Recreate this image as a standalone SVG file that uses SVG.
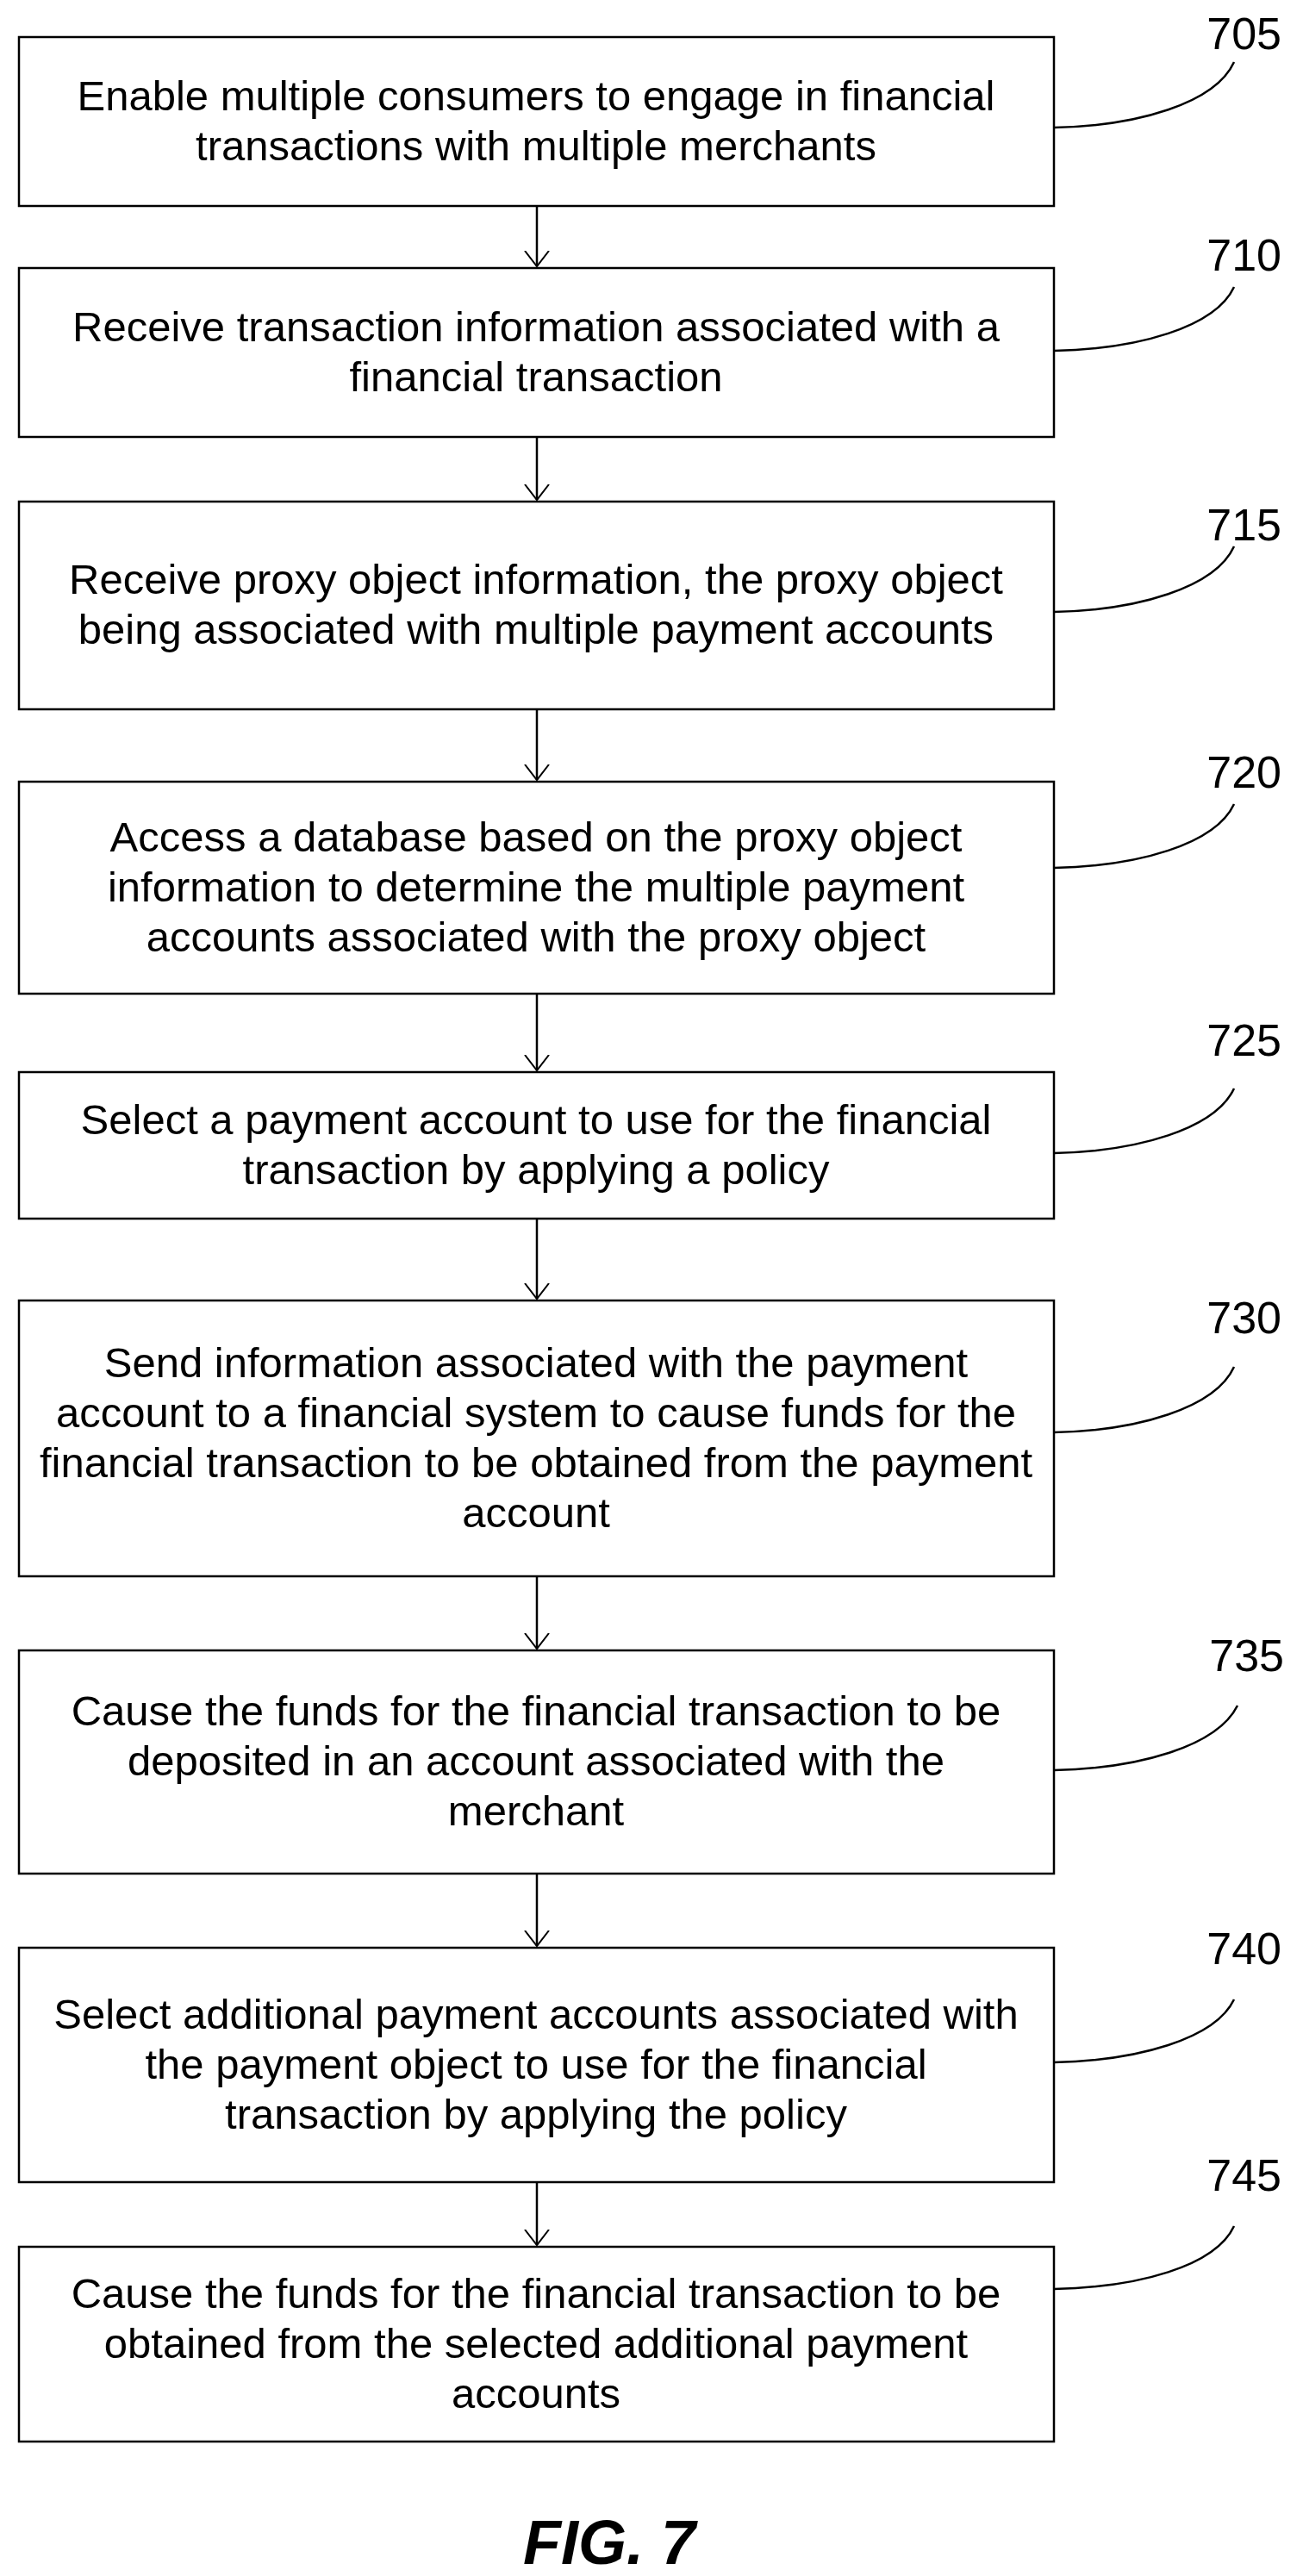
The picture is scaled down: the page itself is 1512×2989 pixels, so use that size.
<svg xmlns="http://www.w3.org/2000/svg" width="1512" height="2989" viewBox="0 0 1512 2989">
<style>
.box{fill:#fff;stroke:#000;stroke-width:2.5}
.t{font-family:"Liberation Sans",Arial,sans-serif;font-size:49px;text-anchor:middle;fill:#000}
.lbl{font-family:"Liberation Sans",Arial,sans-serif;font-size:52px;text-anchor:end;fill:#000}
.ld{fill:none;stroke:#000;stroke-width:2.5}
.ar{fill:none;stroke:#000;stroke-width:2.5}
</style>
<defs>
<marker id="v" markerWidth="24" markerHeight="30" refX="18" refY="15" orient="auto" markerUnits="userSpaceOnUse">
<path d="M0,1 L18,15 L0,29" fill="none" stroke="#000" stroke-width="2"/>
</marker>
</defs>
<rect width="1512" height="2989" fill="#fff"/>
<g id="connectors">
<line class="ar" x1="623" y1="239" x2="623" y2="309" marker-end="url(#v)"/>
<line class="ar" x1="623" y1="507" x2="623" y2="580" marker-end="url(#v)"/>
<line class="ar" x1="623" y1="823" x2="623" y2="905" marker-end="url(#v)"/>
<line class="ar" x1="623" y1="1153" x2="623" y2="1242" marker-end="url(#v)"/>
<line class="ar" x1="623" y1="1414" x2="623" y2="1507" marker-end="url(#v)"/>
<line class="ar" x1="623" y1="1829" x2="623" y2="1913" marker-end="url(#v)"/>
<line class="ar" x1="623" y1="2174" x2="623" y2="2258" marker-end="url(#v)"/>
<line class="ar" x1="623" y1="2532" x2="623" y2="2605" marker-end="url(#v)"/>
</g>
<g id="n705">
<rect class="box" x="22" y="43" width="1201" height="196"/>
<text class="t" x="622" y="128">Enable multiple consumers to engage in financial</text>
<text class="t" x="622" y="186">transactions with multiple merchants</text>
<text class="lbl" x="1487" y="57">705</text>
<path class="ld" d="M1223,148 C1320,146 1410,120 1432,72"/>
</g>
<g id="n710">
<rect class="box" x="22" y="311" width="1201" height="196"/>
<text class="t" x="622" y="396">Receive transaction information associated with a</text>
<text class="t" x="622" y="454">financial transaction</text>
<text class="lbl" x="1487" y="314">710</text>
<path class="ld" d="M1223,407 C1320,405 1410,380 1432,333"/>
</g>
<g id="n715">
<rect class="box" x="22" y="582" width="1201" height="241"/>
<text class="t" x="622" y="689">Receive proxy object information, the proxy object</text>
<text class="t" x="622" y="747">being associated with multiple payment accounts</text>
<text class="lbl" x="1487" y="627">715</text>
<path class="ld" d="M1223,710 C1320,708 1410,682 1432,634"/>
</g>
<g id="n720">
<rect class="box" x="22" y="907" width="1201" height="246"/>
<text class="t" x="622" y="988">Access a database based on the proxy object</text>
<text class="t" x="622" y="1046">information to determine the multiple payment</text>
<text class="t" x="622" y="1104">accounts associated with the proxy object</text>
<text class="lbl" x="1487" y="914">720</text>
<path class="ld" d="M1223,1007 C1320,1005 1410,980 1432,933"/>
</g>
<g id="n725">
<rect class="box" x="22" y="1244" width="1201" height="170"/>
<text class="t" x="622" y="1316">Select a payment account to use for the financial</text>
<text class="t" x="622" y="1374">transaction by applying a policy</text>
<text class="lbl" x="1487" y="1225">725</text>
<path class="ld" d="M1223,1338 C1320,1336 1410,1310 1432,1263"/>
</g>
<g id="n730">
<rect class="box" x="22" y="1509" width="1201" height="320"/>
<text class="t" x="622" y="1598">Send information associated with the payment</text>
<text class="t" x="622" y="1656">account to a financial system to cause funds for the</text>
<text class="t" x="622" y="1714">financial transaction to be obtained from the payment</text>
<text class="t" x="622" y="1772">account</text>
<text class="lbl" x="1487" y="1547">730</text>
<path class="ld" d="M1223,1662 C1320,1660 1410,1634 1432,1586"/>
</g>
<g id="n735">
<rect class="box" x="22" y="1915" width="1201" height="259"/>
<text class="t" x="622" y="2002">Cause the funds for the financial transaction to be</text>
<text class="t" x="622" y="2060">deposited in an account associated with the</text>
<text class="t" x="622" y="2118">merchant</text>
<text class="lbl" x="1490" y="1939">735</text>
<path class="ld" d="M1223,2054 C1320,2052 1412,2027 1436,1979"/>
</g>
<g id="n740">
<rect class="box" x="22" y="2260" width="1201" height="272"/>
<text class="t" x="622" y="2354">Select additional payment accounts associated with</text>
<text class="t" x="622" y="2412">the payment object to use for the financial</text>
<text class="t" x="622" y="2470">transaction by applying the policy</text>
<text class="lbl" x="1487" y="2279">740</text>
<path class="ld" d="M1223,2393 C1320,2391 1410,2366 1432,2320"/>
</g>
<g id="n745">
<rect class="box" x="22" y="2607" width="1201" height="226"/>
<text class="t" x="622" y="2678">Cause the funds for the financial transaction to be</text>
<text class="t" x="622" y="2736">obtained from the selected additional payment</text>
<text class="t" x="622" y="2794">accounts</text>
<text class="lbl" x="1487" y="2542">745</text>
<path class="ld" d="M1223,2656 C1320,2654 1410,2630 1432,2583"/>
</g>
<text x="707" y="2975" font-family="'Liberation Sans',Arial,sans-serif" font-size="72" font-weight="bold" font-style="italic" text-anchor="middle">FIG. 7</text>
</svg>
